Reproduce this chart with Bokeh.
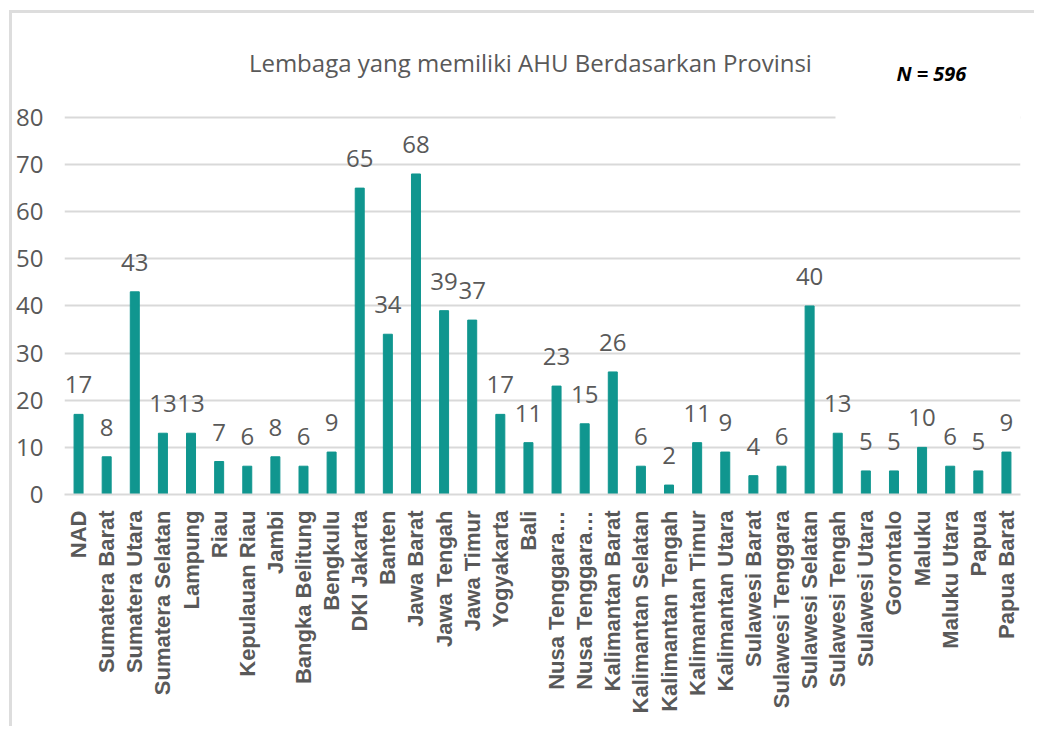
from bokeh.plotting import figure
from bokeh.models import ColumnDataSource, LabelSet, Label, BoxAnnotation, FactorRange, Range1d
from bokeh.core.properties import value
from bokeh.embed import file_html
from bokeh.resources import INLINE
import math

provinces = ["NAD", "Sumatera Barat", "Sumatera Utara", "Sumatera Selatan", "Lampung", "Riau",
             "Kepulauan Riau", "Jambi", "Bangka Belitung", "Bengkulu", "DKI Jakarta", "Banten",
             "Jawa Barat", "Jawa Tengah", "Jawa Timur", "Yogyakarta", "Bali",
             "Nusa Tenggara…", "Nusa Tenggara…\u200b", "Kalimantan Barat", "Kalimantan Selatan",
             "Kalimantan Tengah", "Kalimantan Timur", "Kalimantan Utara", "Sulawesi Barat",
             "Sulawesi Tenggara", "Sulawesi Selatan", "Sulawesi Tengah", "Sulawesi Utara",
             "Gorontalo", "Maluku", "Maluku Utara", "Papua", "Papua Barat"]
counts = [17, 8, 43, 13, 13, 7, 6, 8, 6, 9, 65, 34, 68, 39, 37, 17, 11, 23, 15, 26, 6, 2, 11, 9,
          4, 6, 40, 13, 5, 5, 10, 6, 5, 9]
y_ticks = [0, 10, 20, 30, 40, 50, 60, 70, 80]
title_text = "Lembaga yang memiliki AHU Berdasarkan Provinsi"
n_text = "N = 596"

src = ColumnDataSource(dict(prov=provinces, count=counts, lbl=[str(c) for c in counts]))

W, H = 1025, 716
p = figure(width=W, height=H, x_range=FactorRange(*provinces, range_padding=0),
           y_range=Range1d(0, 99.5), output_backend="svg", toolbar_location=None,
           min_border_left=52, min_border_right=17, min_border_top=12, min_border_bottom=235)
p.styles = {"margin-left": "9px", "margin-top": "10px",
            "border-top": "3px solid #DDDDDD", "border-left": "3px solid #DDDDDD"}
p.outline_line_color = None
p.background_fill_color = "white"
p.border_fill_color = "white"

p.vbar(x="prov", top="count", width=0.32, source=src, color="#10968F")

p.add_layout(LabelSet(x="prov", y="count", text="lbl", source=src, y_offset=21,
                      text_align="center", text_baseline="alphabetic",
                      text_font=value("Open Sans"), text_font_size=value("24px"),
                      text_color="#595959"))

p.xgrid.grid_line_color = None
p.ygrid.grid_line_color = "#D9D9D9"
p.ygrid.grid_line_width = 2
p.yaxis.ticker = y_ticks
p.yaxis.axis_line_color = None
p.yaxis.major_tick_line_color = None
p.yaxis.major_tick_out = 0
p.yaxis.major_tick_in = 0
p.yaxis.minor_tick_line_color = None
p.yaxis.major_label_text_font = "Open Sans"
p.yaxis.major_label_text_font_size = "24px"
p.yaxis.major_label_text_color = "#595959"
p.yaxis.major_label_standoff = 21

p.xaxis.axis_line_color = "#D9D9D9"
p.xaxis.axis_line_width = 2
p.xaxis.major_tick_line_color = None
p.xaxis.major_tick_out = 0
p.xaxis.major_tick_in = 0
p.xaxis.minor_tick_line_color = None
p.xaxis.major_label_orientation = math.pi / 2
p.xaxis.major_label_text_font = "Liberation Sans"
p.xaxis.major_label_text_font_style = "bold"
p.xaxis.major_label_text_font_size = "22px"
p.xaxis.major_label_text_color = "#595959"
p.xaxis.major_label_standoff = 16

# white patch hiding the right end of the top gridline (behind the N label)
p.add_layout(BoxAnnotation(left=27.42, bottom=78, top=82, fill_color="white", fill_alpha=1,
                           line_color=None))

p.add_layout(Label(x=16.57, y=91.7, text=title_text,
                   text_align="center", text_baseline="middle", text_font="Open Sans",
                   text_font_size="24px", text_color="#595959"))
p.add_layout(Label(x=30.83, y=89.3, text=n_text,
                   text_align="center", text_baseline="middle", text_font="Open Sans",
                   text_font_style="bold italic", text_font_size="20px", text_color="black"))

open("out.html", "w").write(file_html(p, INLINE))
